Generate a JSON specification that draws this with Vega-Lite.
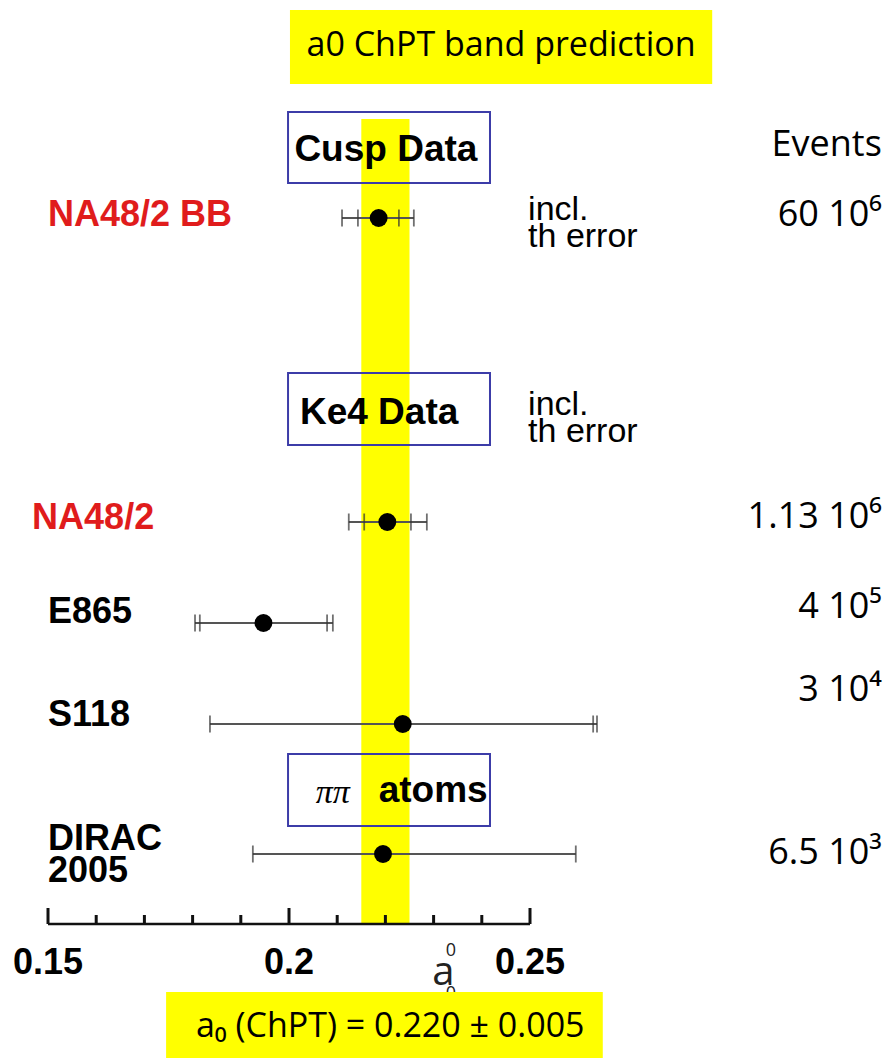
{
  "$schema": "https://vega.github.io/schema/vega-lite/v6.json",
  "width": 891,
  "height": 1058,
  "padding": 0,
  "autosize": {"type": "fit", "contains": "padding"},
  "background": "white",
  "config": {"view": {"stroke": null}, "axis": {"disable": true}},
  "datasets": {
    "results": [
      {"exp": "NA48/2 BB", "a0": 0.2186, "lo": 0.2110, "hi": 0.2259, "lo_in": 0.2143, "hi_in": 0.2228, "row": 21.8},
      {"exp": "NA48/2", "a0": 0.2204, "lo": 0.2124, "hi": 0.2286, "lo_in": 0.2156, "hi_in": 0.2253, "row": 52.2},
      {"exp": "E865", "a0": 0.1947, "lo": 0.1805, "hi": 0.2091, "lo_in": 0.1815, "hi_in": 0.2079, "row": 62.3},
      {"exp": "S118", "a0": 0.2236, "lo": 0.1836, "hi": 0.2639, "lo_in": null, "hi_in": 0.2631, "row": 72.4},
      {"exp": "DIRAC 2005", "a0": 0.2195, "lo": 0.1925, "hi": 0.2595, "lo_in": null, "hi_in": null, "row": 85.4}
    ],
    "names": [
      {"label": "NA48/2 BB", "a0": 0.15, "row": 21.5, "collab": "NA48/2"},
      {"label": "NA48/2", "a0": 0.1467, "row": 51.8, "collab": "NA48/2"},
      {"label": "E865", "a0": 0.15, "row": 61.2, "collab": "other"},
      {"label": "S118", "a0": 0.15, "row": 71.5, "collab": "other"},
      {"label": "DIRAC", "a0": 0.15, "row": 83.9, "collab": "other"},
      {"label": "2005", "a0": 0.15, "row": 87.1, "collab": "other"}
    ],
    "sections": [
      {"label": "Cusp Data", "a0": 0.2201, "row": 15.0, "lo": 0.1998, "hi": 0.2417, "top": 11.2, "bottom": 18.3},
      {"label": "Ke4 Data", "a0": 0.2187, "row": 41.3, "lo": 0.1998, "hi": 0.2417, "top": 37.3, "bottom": 44.5},
      {"label": "atoms", "a0": 0.2299, "row": 79.1, "lo": 0.1998, "hi": 0.2417, "top": 75.4, "bottom": 82.6}
    ],
    "notes": [
      {"label": "incl.", "a0": 0.2496, "row": 21.0},
      {"label": "th error", "a0": 0.2496, "row": 23.7},
      {"label": "incl.", "a0": 0.2496, "row": 40.5},
      {"label": "th error", "a0": 0.2496, "row": 43.2}
    ],
    "events": [
      {"label": "Events", "a0": 0.3230, "row": 14.5},
      {"label": "60 10⁶", "a0": 0.3230, "row": 21.5},
      {"label": "1.13 10⁶", "a0": 0.3230, "row": 51.7},
      {"label": "4 10⁵", "a0": 0.3230, "row": 60.7},
      {"label": "3 10⁴", "a0": 0.3230, "row": 69.0},
      {"label": "6.5 10³", "a0": 0.3230, "row": 85.3}
    ],
    "ticks": [
      {"a0": 0.15, "top": 90.8}, {"a0": 0.16, "top": 91.5}, {"a0": 0.17, "top": 91.5},
      {"a0": 0.18, "top": 91.5}, {"a0": 0.19, "top": 91.5}, {"a0": 0.20, "top": 90.8},
      {"a0": 0.21, "top": 91.5}, {"a0": 0.22, "top": 91.5}, {"a0": 0.23, "top": 91.5},
      {"a0": 0.24, "top": 91.5}, {"a0": 0.25, "top": 90.8}
    ],
    "ticklabels": [
      {"label": "0.15", "a0": 0.15, "row": 96.3},
      {"label": "0.2", "a0": 0.20, "row": 96.3},
      {"label": "0.25", "a0": 0.25, "row": 96.3}
    ],
    "banners": [
      {"label": "a0 ChPT band prediction", "a0": 0.2440, "row": 4.6, "lo": 0.2002, "hi": 0.2878, "top": 1.0, "bottom": 8.4},
      {"label": "a₀ (ChPT) = 0.220 ± 0.005", "a0": 0.2210, "row": 102.7, "lo": 0.1745, "hi": 0.2651, "top": 99.2, "bottom": 105.8}
    ]
  },
  "layer": [
    {
      "data": {"values": [{"lo": 0.215, "hi": 0.225, "top": 11.9, "bottom": 92.4}]},
      "mark": {"type": "rect", "color": "#ffff00"},
      "encoding": {
        "x": {"field": "lo", "type": "quantitative", "scale": {"domain": [0.140041, 0.324896], "nice": false, "zero": false}},
        "x2": {"field": "hi"},
        "y": {"field": "top", "type": "quantitative", "scale": {"domain": [0, 105.8], "nice": false, "zero": false, "reverse": true}},
        "y2": {"field": "bottom"}
      }
    },
    {
      "data": {"name": "sections"},
      "mark": {"type": "rect", "fillOpacity": 0, "stroke": "#3c3ca8", "strokeWidth": 2},
      "encoding": {
        "x": {"field": "lo", "type": "quantitative", "scale": {"domain": [0.140041, 0.324896], "nice": false, "zero": false}},
        "x2": {"field": "hi"},
        "y": {"field": "top", "type": "quantitative", "scale": {"domain": [0, 105.8], "nice": false, "zero": false, "reverse": true}},
        "y2": {"field": "bottom"}
      }
    },
    {
      "data": {"values": [{"lo": 0.15, "hi": 0.25, "row": 92.4}]},
      "mark": {"type": "rule", "color": "#111", "strokeWidth": 2.5},
      "encoding": {
        "x": {"field": "lo", "type": "quantitative", "scale": {"domain": [0.140041, 0.324896], "nice": false, "zero": false}},
        "x2": {"field": "hi"},
        "y": {"field": "row", "type": "quantitative", "scale": {"domain": [0, 105.8], "nice": false, "zero": false, "reverse": true}}
      }
    },
    {
      "data": {"name": "ticks"},
      "mark": {"type": "rule", "color": "#111", "strokeWidth": 3},
      "encoding": {
        "x": {"field": "a0", "type": "quantitative", "scale": {"domain": [0.140041, 0.324896], "nice": false, "zero": false}},
        "y": {"field": "top", "type": "quantitative", "scale": {"domain": [0, 105.8], "nice": false, "zero": false, "reverse": true}},
        "y2": {"datum": 92.4}
      }
    },
    {
      "data": {"name": "results"},
      "mark": {"type": "rule", "color": "#555", "strokeWidth": 2},
      "encoding": {
        "x": {"field": "lo", "type": "quantitative", "scale": {"domain": [0.140041, 0.324896], "nice": false, "zero": false}},
        "x2": {"field": "hi"},
        "y": {"field": "row", "type": "quantitative", "scale": {"domain": [0, 105.8], "nice": false, "zero": false, "reverse": true}}
      }
    },
    {
      "data": {"name": "results"},
      "transform": [
        {"fold": ["lo", "hi", "lo_in", "hi_in"], "as": ["cap", "capval"]},
        {"filter": "isValid(datum.capval)"}
      ],
      "mark": {"type": "tick", "orient": "vertical", "color": "#333", "size": 17, "thickness": 1.8},
      "encoding": {
        "x": {"field": "capval", "type": "quantitative", "scale": {"domain": [0.140041, 0.324896], "nice": false, "zero": false}},
        "y": {"field": "row", "type": "quantitative", "scale": {"domain": [0, 105.8], "nice": false, "zero": false, "reverse": true}}
      }
    },
    {
      "data": {"name": "results"},
      "mark": {"type": "circle", "color": "#000", "opacity": 1, "size": 320},
      "encoding": {
        "x": {"field": "a0", "type": "quantitative", "scale": {"domain": [0.140041, 0.324896], "nice": false, "zero": false}},
        "y": {"field": "row", "type": "quantitative", "scale": {"domain": [0, 105.8], "nice": false, "zero": false, "reverse": true}}
      }
    },
    {
      "data": {"name": "names"},
      "mark": {"type": "text", "font": "Liberation Sans, Arial, sans-serif", "fontWeight": "bold", "fontSize": 36, "align": "left", "baseline": "middle"},
      "encoding": {
        "x": {"field": "a0", "type": "quantitative", "scale": {"domain": [0.140041, 0.324896], "nice": false, "zero": false}},
        "y": {"field": "row", "type": "quantitative", "scale": {"domain": [0, 105.8], "nice": false, "zero": false, "reverse": true}},
        "text": {"field": "label"},
        "color": {"field": "collab", "type": "nominal", "scale": {"domain": ["NA48/2", "other"], "range": ["#e01c1c", "#000000"]}, "legend": null}
      }
    },
    {
      "data": {"name": "sections"},
      "mark": {"type": "text", "font": "Liberation Sans, Arial, sans-serif", "fontWeight": "bold", "fontSize": 37, "align": "center", "baseline": "middle", "color": "#000"},
      "encoding": {
        "x": {"field": "a0", "type": "quantitative", "scale": {"domain": [0.140041, 0.324896], "nice": false, "zero": false}},
        "y": {"field": "row", "type": "quantitative", "scale": {"domain": [0, 105.8], "nice": false, "zero": false, "reverse": true}},
        "text": {"field": "label"}
      }
    },
    {
      "data": {"values": [{"label": "ππ", "a0": 0.2091, "row": 79.3}]},
      "mark": {"type": "text", "font": "Liberation Serif", "fontStyle": "italic", "fontSize": 34, "align": "center", "baseline": "middle", "color": "#000"},
      "encoding": {
        "x": {"field": "a0", "type": "quantitative", "scale": {"domain": [0.140041, 0.324896], "nice": false, "zero": false}},
        "y": {"field": "row", "type": "quantitative", "scale": {"domain": [0, 105.8], "nice": false, "zero": false, "reverse": true}},
        "text": {"field": "label"}
      }
    },
    {
      "data": {"name": "notes"},
      "mark": {"type": "text", "font": "Liberation Sans, Arial, sans-serif", "fontSize": 34, "align": "left", "baseline": "middle", "color": "#000"},
      "encoding": {
        "x": {"field": "a0", "type": "quantitative", "scale": {"domain": [0.140041, 0.324896], "nice": false, "zero": false}},
        "y": {"field": "row", "type": "quantitative", "scale": {"domain": [0, 105.8], "nice": false, "zero": false, "reverse": true}},
        "text": {"field": "label"}
      }
    },
    {
      "data": {"name": "events"},
      "mark": {"type": "text", "font": "Open Sans", "fontSize": 36, "align": "right", "baseline": "middle", "color": "#000"},
      "encoding": {
        "x": {"field": "a0", "type": "quantitative", "scale": {"domain": [0.140041, 0.324896], "nice": false, "zero": false}},
        "y": {"field": "row", "type": "quantitative", "scale": {"domain": [0, 105.8], "nice": false, "zero": false, "reverse": true}},
        "text": {"field": "label"}
      }
    },
    {
      "data": {"name": "ticklabels"},
      "mark": {"type": "text", "font": "Liberation Sans, Arial, sans-serif", "fontWeight": "bold", "fontSize": 36, "align": "center", "baseline": "middle", "color": "#000"},
      "encoding": {
        "x": {"field": "a0", "type": "quantitative", "scale": {"domain": [0.140041, 0.324896], "nice": false, "zero": false}},
        "y": {"field": "row", "type": "quantitative", "scale": {"domain": [0, 105.8], "nice": false, "zero": false, "reverse": true}},
        "text": {"field": "label"}
      }
    },
    {
      "data": {"values": [{"label": "a", "a0": 0.2320, "row": 97.3}]},
      "mark": {"type": "text", "font": "Open Sans", "fontSize": 40, "align": "center", "baseline": "middle", "color": "#222"},
      "encoding": {
        "x": {"field": "a0", "type": "quantitative", "scale": {"domain": [0.140041, 0.324896], "nice": false, "zero": false}},
        "y": {"field": "row", "type": "quantitative", "scale": {"domain": [0, 105.8], "nice": false, "zero": false, "reverse": true}},
        "text": {"field": "label"}
      }
    },
    {
      "data": {"values": [{"label": "0", "a0": 0.2336, "row": 95.1}, {"label": "0", "a0": 0.2336, "row": 99.4}]},
      "mark": {"type": "text", "font": "Open Sans", "fontSize": 18, "align": "center", "baseline": "middle", "color": "#222"},
      "encoding": {
        "x": {"field": "a0", "type": "quantitative", "scale": {"domain": [0.140041, 0.324896], "nice": false, "zero": false}},
        "y": {"field": "row", "type": "quantitative", "scale": {"domain": [0, 105.8], "nice": false, "zero": false, "reverse": true}},
        "text": {"field": "label"}
      }
    },
    {
      "data": {"name": "banners"},
      "mark": {"type": "rect", "color": "#ffff00"},
      "encoding": {
        "x": {"field": "lo", "type": "quantitative", "scale": {"domain": [0.140041, 0.324896], "nice": false, "zero": false}},
        "x2": {"field": "hi"},
        "y": {"field": "top", "type": "quantitative", "scale": {"domain": [0, 105.8], "nice": false, "zero": false, "reverse": true}},
        "y2": {"field": "bottom"}
      }
    },
    {
      "data": {"name": "banners"},
      "mark": {"type": "text", "font": "Open Sans", "fontSize": 34, "align": "center", "baseline": "middle", "color": "#000"},
      "encoding": {
        "x": {"field": "a0", "type": "quantitative", "scale": {"domain": [0.140041, 0.324896], "nice": false, "zero": false}},
        "y": {"field": "row", "type": "quantitative", "scale": {"domain": [0, 105.8], "nice": false, "zero": false, "reverse": true}},
        "text": {"field": "label"}
      }
    }
  ]
}
